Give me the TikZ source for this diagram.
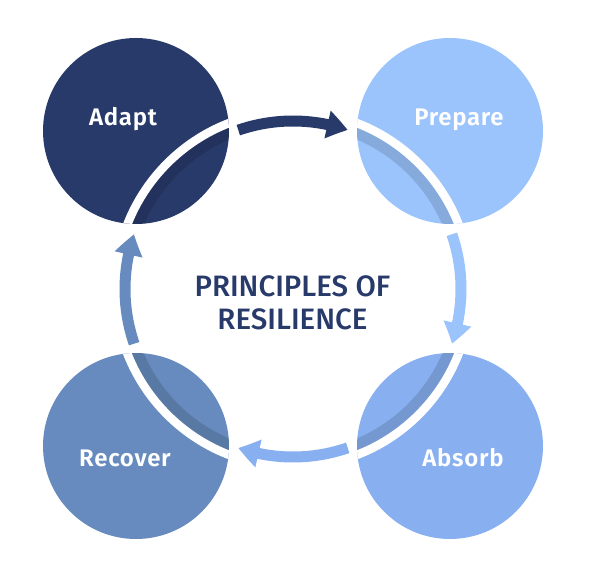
\documentclass[tikz,border=0pt]{standalone}
\usepackage{fontspec}
\usetikzlibrary{arrows.meta,bending,calc}
\IfFontExistsTF{Fira Sans Medium}{%
  \newfontfamily\titlefont{Fira Sans Medium}%
}{\newfontfamily\titlefont{Fira Sans}[UprightFont={* Bold}]}
\IfFontExistsTF{Fira Sans SemiBold}{%
  \newfontfamily\labelfont{Fira Sans SemiBold}[LetterSpace=3]%
}{\newfontfamily\labelfont{Fira Sans}[UprightFont={* Bold},LetterSpace=3]}
\definecolor{navy}{HTML}{283A6A}
\definecolor{prep}{HTML}{9BC4FC}
\definecolor{absb}{HTML}{88AFF0}
\definecolor{recv}{HTML}{678BBE}
\begin{document}
\begin{tikzpicture}[x=1pt,y=1pt,
  phase/.style={circle,minimum size=186pt,inner sep=0pt,draw=none},
  lbl/.style={anchor=base,text=white,font=\labelfont\fontsize{24}{28}\selectfont},
  ttl/.style={anchor=base,text=navy,font=\titlefont\fontsize{29.5}{33}\selectfont},
  conn/.style={line width=11pt,line cap=butt,-{Triangle[length=21pt,width=27pt,bend]}},
  gapline/.style={white,line width=8.5pt},
  shade/.style={black,opacity=.13,line width=11pt}]
\useasboundingbox (0,0) rectangle (610,564);
\coordinate (O) at (293,275);
\node[phase,fill=navy] (adapt) at (136,433) {};
\node[phase,fill=prep] (prepare) at (450,433) {};
\node[phase,fill=recv] (recover) at (136,118) {};
\node[phase,fill=absb] (absorb) at (450,118) {};
\foreach \c in {adapt,prepare,recover,absorb}{
  \begin{scope}
    \clip (\c.center) circle[radius=93];
    \draw[shade] (O) circle[radius=168];
    \draw[gapline] (O) circle[radius=177.75];
  \end{scope}
}
\node[lbl] (adaptlbl) at (123,438) {Adapt};
\node[lbl] (preparelbl) at (459,438) {Prepare};
\node[lbl] (recoverlbl) at (125,97) {Recover};
\node[lbl] (absorblbl) at (463,97) {Absorb};
\node[ttl] (t1) at (292.5,267.3) {PRINCIPLES OF};
\node[ttl] (t2) at (292.5,234) {RESILIENCE};
\coordinate (s1) at ($(O)+(109:168)$);
\coordinate (s2) at ($(O)+(19:168)$);
\coordinate (s3) at ($(O)+(-71:168)$);
\coordinate (s4) at ($(O)+(-161:168)$);
\draw[conn,navy] (s1) arc[start angle=109,end angle=71,radius=168];
\draw[conn,prep] (s2) arc[start angle=19,end angle=-19,radius=168];
\draw[conn,absb] (s3) arc[start angle=-71,end angle=-109,radius=168];
\draw[conn,recv] (s4) arc[start angle=-161,end angle=-199,radius=168];
\end{tikzpicture}
\end{document}
